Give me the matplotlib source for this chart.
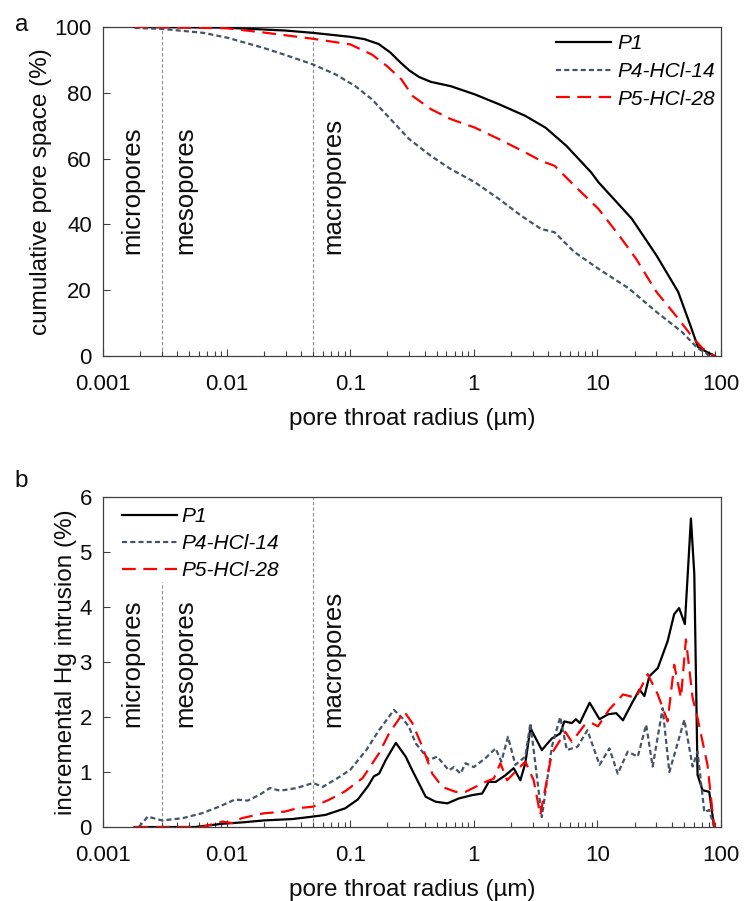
# Mercury intrusion: cumulative pore space (a) and incremental Hg intrusion (b)

import matplotlib.pyplot as plt
from matplotlib.ticker import FixedLocator, FuncFormatter, LogLocator, NullFormatter

plt.rcParams['font.family'] = ['Liberation Sans', 'DejaVu Sans']

# =========================
# DATA
# =========================
SERIES = ['P1', 'P4-HCl-14', 'P5-HCl-28']

# panel a: cumulative pore space (%)
cum_p1_r = [0.0018, 0.0095, 0.03, 0.05, 0.1, 0.13, 0.17, 0.21, 0.25, 0.3, 0.36, 0.45,
            0.65, 1.02, 1.6, 2.6, 3.8, 5.6, 8.9, 10.2, 19, 30, 45, 57, 65, 76, 89]
cum_p1 = [100, 99.8, 98.9, 98.2, 97, 96.3, 94.8, 92.3, 89.5, 86.8, 84.8, 83.3,
          82, 79.5, 76.5, 73, 69.4, 63.9, 55.8, 52.8, 41.7, 30.6, 19.5, 8.9, 2.8, 1.3, 0]

cum_p4_r = [0.0018, 0.003, 0.0065, 0.0102, 0.02, 0.032, 0.05, 0.076, 0.11, 0.15, 0.2,
            0.3, 0.45, 0.65, 1.02, 1.6, 2.4, 3.5, 4.5, 6.5, 10.2, 18, 30, 48, 65, 76, 80]
cum_p4 = [99.7, 99.4, 98.2, 96.7, 93.6, 91.1, 88.6, 85.6, 82, 78, 73,
          65.9, 60.8, 56.8, 52.8, 47.7, 42.7, 38.6, 37.6, 31.6, 26.5, 20.5, 13.4, 7.4, 2.3, 0.8, 0]

cum_p5_r = [0.0018, 0.01, 0.02, 0.05, 0.1, 0.15, 0.2, 0.26, 0.32, 0.45, 0.65, 1.02,
            1.6, 2.6, 3.5, 4.5, 6.5, 10.2, 15, 20.5, 30, 45, 60, 71, 89]
cum_p5 = [100, 99.6, 98.3, 96.4, 94.7, 91.6, 88, 84, 79, 75, 72, 69.4,
          65.9, 61.9, 59.3, 57.8, 51.8, 44.7, 36.6, 29.6, 19.5, 11.4, 5.3, 2.3, 0]

# panel b: incremental Hg intrusion (%)
inc_p1_r = [0.0018, 0.0055, 0.0093, 0.0135, 0.02, 0.034, 0.05, 0.063, 0.091, 0.115,
            0.14, 0.155, 0.171, 0.194, 0.234, 0.281, 0.318, 0.408, 0.491, 0.61, 0.757,
            0.97, 1.17, 1.32, 1.5, 1.8, 2.1, 2.38, 2.61, 2.87, 3.55, 4.28, 5.0, 5.4,
            6.2, 6.7, 7.2, 8.65, 10.4, 12.2, 14.2, 16.1, 18.7, 21.9, 24, 26.3, 30.8,
            37, 41.8, 45.8, 51, 57.1, 60.8, 64.6, 70.8, 80.3, 88]
inc_p1 = [0, 0, 0.06, 0.085, 0.12, 0.145, 0.19, 0.22, 0.34, 0.5,
          0.75, 0.92, 0.97, 1.22, 1.53, 1.28, 1.03, 0.55, 0.46, 0.43, 0.52,
          0.58, 0.61, 0.82, 0.82, 0.94, 1.07, 0.85, 1.16, 1.8, 1.4, 1.61, 1.7, 1.92,
          1.89, 1.96, 1.89, 2.26, 1.96, 2.05, 2.07, 1.94, 2.22, 2.5, 2.38, 2.74, 2.89,
          3.38, 3.87, 3.98, 3.69, 5.61, 4.6, 0.95, 0.67, 0.64, 0]

inc_p4_r = [0.00195, 0.0023, 0.003, 0.0044, 0.0063, 0.0087, 0.0117, 0.0148, 0.0186,
            0.0224, 0.027, 0.037, 0.05, 0.06, 0.079, 0.1, 0.135, 0.171, 0.226, 0.264,
            0.299, 0.339, 0.434, 0.506, 0.628, 0.69, 0.78, 0.857, 1.0, 1.24, 1.5, 1.67,
            1.89, 2.17, 2.61, 2.87, 3.55, 4.28, 5.0, 5.66, 6.9, 8.3, 10.4, 12.5, 14.6,
            17.6, 21.2, 24.8, 28, 33.7, 38.2, 50.5, 58.9, 64.6, 73.3, 80.3, 88]
inc_p4 = [0, 0.19, 0.12, 0.16, 0.25, 0.37, 0.5, 0.48, 0.59,
          0.71, 0.66, 0.71, 0.8, 0.73, 0.89, 1.04, 1.4, 1.76, 2.13, 1.98,
          1.82, 1.52, 1.22, 1.28, 1.03, 1.09, 0.97, 1.16, 1.09, 1.25, 1.43, 1.19,
          1.64, 1.13, 1.28, 1.89, 0.18, 1.46, 2.0, 1.4, 1.46, 1.76, 1.13, 1.43, 0.97,
          1.37, 1.28, 1.86, 1.1, 2.16, 1.0, 1.95, 1.1, 1.37, 0.27, 0.31, 0]

inc_p5_r = [0.0018, 0.0063, 0.0093, 0.0112, 0.0132, 0.02, 0.0295, 0.037, 0.05, 0.068,
            0.091, 0.126, 0.171, 0.206, 0.273, 0.318, 0.383, 0.461, 0.556, 0.711, 0.857,
            1.03, 1.24, 1.45, 1.64, 1.86, 2.61, 3.05, 3.45, 4.28, 5.5, 6.2, 7.9, 9.0,
            10.1, 12.4, 16.1, 20.5, 25.5, 30.8, 37, 41.8, 47.4, 52, 58.9, 64.6, 77.7, 88]
inc_p5 = [0, 0, 0.1, 0.07, 0.16, 0.25, 0.28, 0.34, 0.37, 0.5,
          0.65, 0.89, 1.34, 1.7, 2.1, 1.89, 1.46, 0.97, 0.73, 0.64, 0.64,
          0.73, 0.82, 0.88, 1.16, 0.85, 1.19, 0.85, 0.22, 1.34, 1.73, 1.55, 1.86, 1.89,
          1.83, 2.13, 2.41, 2.35, 2.78, 2.41, 1.92, 2.95, 2.35, 3.41, 2.35, 1.98, 1.13, 0]

X_TICKS = [0.001, 0.01, 0.1, 1, 10, 100]
BOUNDARIES = [0.003, 0.05]
PORE_CLASSES = ['micropores', 'mesopores', 'macropores']
PORE_CLASS_X = [0.00174, 0.0046, 0.073]

# =========================
# STYLE
# =========================
BLACK = '#000000'
SLATE = '#44546A'
RED = '#FF0000'
GUIDE = '#8C8C8C'
TEXT_COLOR = '#0D0D0D'

TICK_SIZE = 16
LABEL_SIZE = 17.5
PORE_SIZE = 18.5
LEGEND_SIZE = 15

styles = [
    dict(color=BLACK, lw=1.6, ls='-'),
    dict(color=SLATE, lw=1.6, ls=(0, (2.3, 1.4))),
    dict(color=RED, lw=1.6, ls=(0, (6.2, 3.4))),
]

fig = plt.figure(figsize=(7.45, 9.01), dpi=100)
ax_a = fig.add_axes([0.1383, 0.6049, 0.8295, 0.3652])
ax_b = fig.add_axes([0.1383, 0.0821, 0.8295, 0.3663])


def style_axis(ax, ymax, ystep, ylabel):
    ax.set_xscale('log')
    ax.set_xlim(0.001, 100)
    ax.set_ylim(0, ymax)
    ax.xaxis.set_major_locator(FixedLocator(X_TICKS))
    ax.xaxis.set_major_formatter(FuncFormatter(lambda v, p: f'{v:g}'))
    ax.xaxis.set_minor_locator(LogLocator(base=10, subs=range(2, 10)))
    ax.xaxis.set_minor_formatter(NullFormatter())
    ax.set_yticks([i * ystep for i in range(int(round(ymax / ystep)) + 1)])
    ax.tick_params(axis='both', which='major', direction='in', length=5, width=0.8,
                   labelsize=TICK_SIZE, colors='#404040', labelcolor=TEXT_COLOR,
                   top=False, right=False)
    ax.tick_params(axis='x', which='minor', direction='in', length=3.5, width=0.8,
                   colors='#404040', top=False)
    ax.tick_params(axis='x', which='major', pad=13)
    ax.tick_params(axis='y', which='major', pad=8)
    for sp in ax.spines.values():
        sp.set_color('#404040')
        sp.set_linewidth(0.9)
    ax.set_xlabel('pore throat radius (µm)', fontsize=LABEL_SIZE, color=TEXT_COLOR, labelpad=9)
    ax.set_ylabel(ylabel, fontsize=LABEL_SIZE, color=TEXT_COLOR, labelpad=2)


# ---- panel a ----
style_axis(ax_a, 100, 20, 'cumulative pore space (%)')
for b in BOUNDARIES:
    ax_a.axvline(b, color=GUIDE, lw=0.8, ls=(0, (3, 2)), zorder=1)
for r, v, name, st in zip([cum_p1_r, cum_p4_r, cum_p5_r], [cum_p1, cum_p4, cum_p5], SERIES, styles):
    ax_a.plot(r, v, label=name, zorder=3, **st)
for name, x in zip(PORE_CLASSES, PORE_CLASS_X):
    ax_a.text(x, 31, name, rotation=90, ha='center', va='bottom',
              fontsize=PORE_SIZE, color=TEXT_COLOR)
ax_a.legend(loc='upper right', bbox_to_anchor=(1.02, 1.035), frameon=False,
            prop=dict(size=LEGEND_SIZE, style='italic'),
            handlelength=2.65, handletextpad=0.3, labelspacing=0.42)

# ---- panel b ----
style_axis(ax_b, 6, 1, 'incremental Hg intrusion (%)')
# mesopore boundary stops below the legend, macropore boundary runs full height
ax_b.axvline(BOUNDARIES[0], ymax=4.45 / 6, color=GUIDE, lw=0.8, ls=(0, (3, 2)), zorder=1)
ax_b.axvline(BOUNDARIES[1], color=GUIDE, lw=0.8, ls=(0, (3, 2)), zorder=1)
for r, v, name, st in zip([inc_p1_r, inc_p4_r, inc_p5_r], [inc_p1, inc_p4, inc_p5], SERIES, styles):
    ax_b.plot(r, v, label=name, zorder=3, **st)
for name, x in zip(PORE_CLASSES, PORE_CLASS_X):
    ax_b.text(x, 1.82, name, rotation=90, ha='center', va='bottom',
              fontsize=PORE_SIZE, color=TEXT_COLOR)
ax_b.legend(loc='upper left', bbox_to_anchor=(0.0, 1.025), frameon=False,
            prop=dict(size=LEGEND_SIZE, style='italic'),
            handlelength=2.65, handletextpad=0.2, labelspacing=0.38)

# panel letters
fig.text(0.02, 0.985, 'a', fontsize=LABEL_SIZE, color=TEXT_COLOR, ha='left', va='top')
fig.text(0.02, 0.478, 'b', fontsize=LABEL_SIZE, color=TEXT_COLOR, ha='left', va='top')

fig.savefig('out.png', dpi=100)
